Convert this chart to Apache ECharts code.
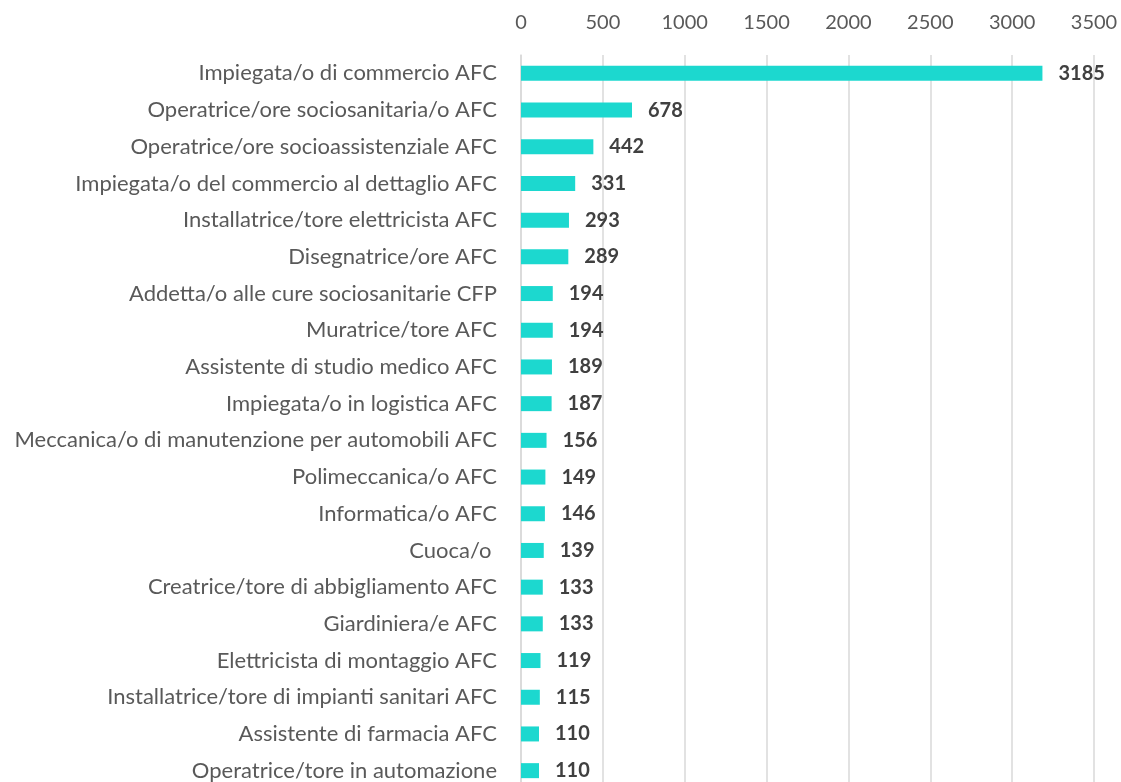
<!DOCTYPE html>
<html>
<head>
<meta charset="utf-8">
<script src="https://cdn.jsdelivr.net/npm/echarts@6/dist/echarts.min.js"></script>
<style>
  html, body { margin: 0; padding: 0; background: #fff; }
  #main { width: 1121px; height: 782px; }
</style>
</head>
<body>
<div id="main"></div>
<script>
var professioni = [
  "Impiegata/o di commercio AFC",
  "Operatrice/ore sociosanitaria/o AFC",
  "Operatrice/ore socioassistenziale AFC",
  "Impiegata/o del commercio al dettaglio AFC",
  "Installatrice/tore elettricista AFC",
  "Disegnatrice/ore AFC",
  "Addetta/o alle cure sociosanitarie CFP",
  "Muratrice/tore AFC",
  "Assistente di studio medico AFC",
  "Impiegata/o in logistica AFC",
  "Meccanica/o di manutenzione per automobili AFC",
  "Polimeccanica/o AFC",
  "Informatica/o AFC",
  "Cuoca/o ",
  "Creatrice/tore di abbigliamento AFC",
  "Giardiniera/e AFC",
  "Elettricista di montaggio AFC",
  "Installatrice/tore di impianti sanitari AFC",
  "Assistente di farmacia AFC",
  "Operatrice/tore in automazione"
];
var contratti = [3185, 678, 442, 331, 293, 289, 194, 194, 189, 187, 156, 149, 146, 139, 133, 133, 119, 115, 110, 110];
var tickMax = 3500;
var tickStep = 500;

var chart = echarts.init(document.getElementById('main'));
var font = 'Lato, "Open Sans", sans-serif';
var option = {
  animation: false,
  grid: {
    left: 521,
    right: 27,
    top: 55,
    bottom: -7,
    outerBoundsMode: 'none'
  },
  xAxis: {
    type: 'value',
    position: 'top',
    min: 0,
    max: tickMax,
    interval: tickStep,
    axisLine: { show: false },
    axisTick: { show: false },
    axisLabel: {
      color: '#595959',
      fontSize: 20,
      fontFamily: font,
      margin: 22,
      formatter: function (v) { return String(v); }
    },
    splitLine: {
      show: true,
      lineStyle: { color: '#d9d9d9', width: 1.5 }
    }
  },
  yAxis: {
    type: 'category',
    inverse: true,
    data: professioni,
    axisLine: { show: true, lineStyle: { color: '#d9d9d9', width: 1.5 } },
    axisTick: { show: false },
    axisLabel: {
      color: '#595959',
      fontSize: 22,
      fontFamily: font,
      margin: 24
    }
  },
  series: [{
    type: 'bar',
    data: contratti,
    barWidth: 15,
    itemStyle: { color: '#1cd8cf' },
    label: {
      show: true,
      position: 'right',
      distance: 16,
      color: '#404040',
      fontSize: 20,
      fontWeight: 'bold',
      fontFamily: font
    }
  }]
};
chart.setOption(option);
</script>
</body>
</html>
